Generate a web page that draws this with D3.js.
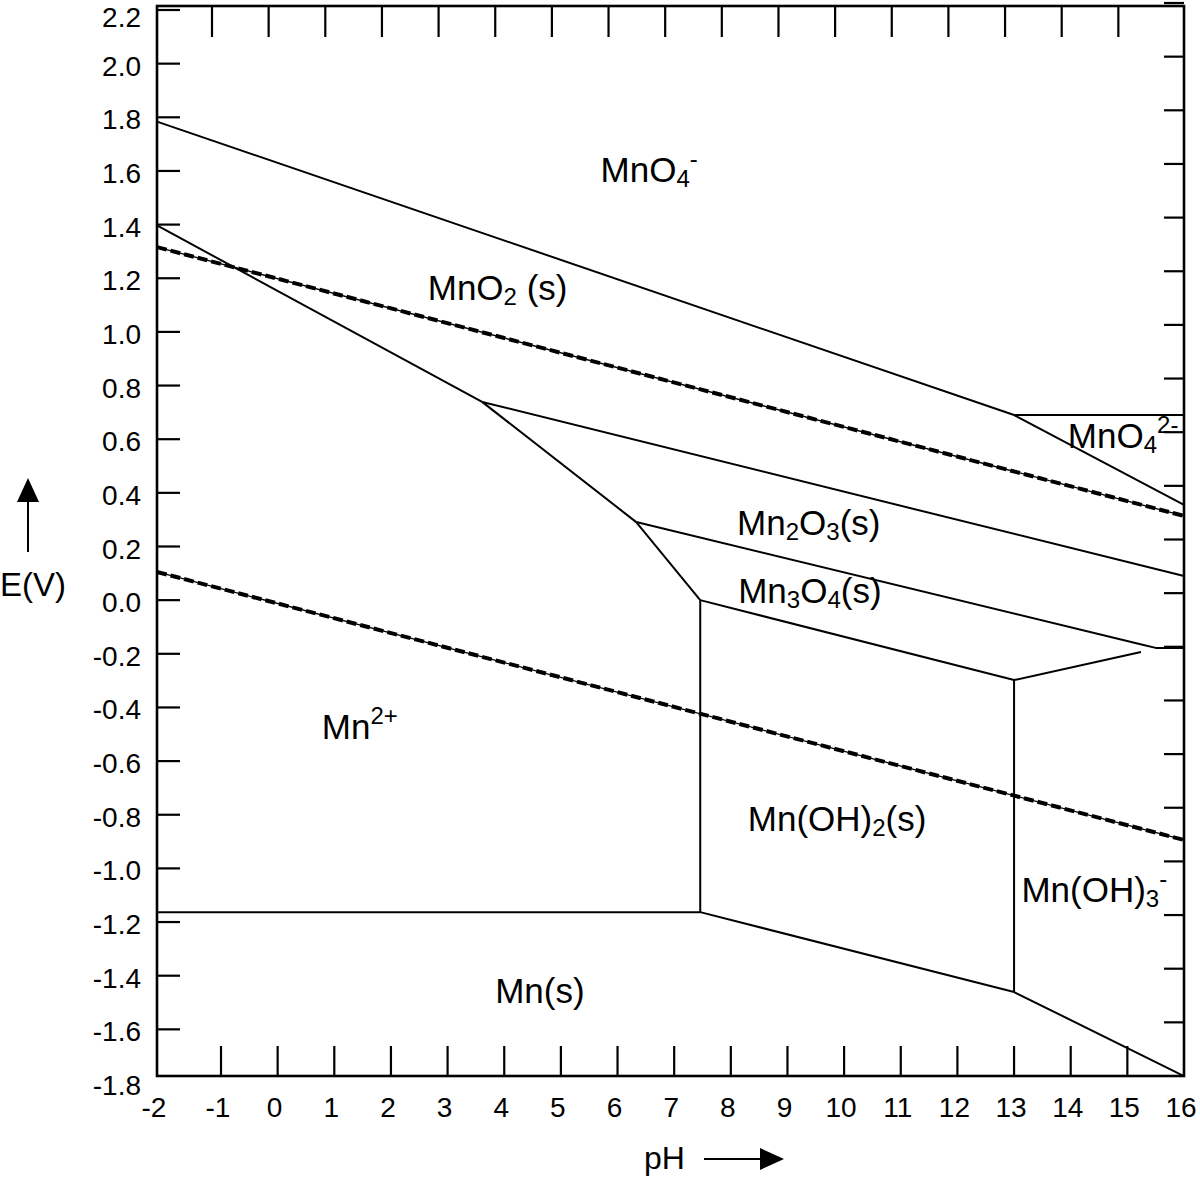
<!DOCTYPE html>
<html><head><meta charset="utf-8">
<script src="https://cdn.jsdelivr.net/npm/d3@7"></script>
<style>body{margin:0;background:#fff}svg{display:block}text{font-family:"Liberation Sans",Arial,sans-serif;fill:#000}</style>
</head><body>
<svg id="c" width="1200" height="1177"></svg>
<script>
// ---- data ----
const phTickLabels = [-2,-1,0,1,2,3,4,5,6,7,8,9,10,11,12,13,14,15,16];
const eTickLabels = [2.2,2.0,1.8,1.6,1.4,1.2,1.0,0.8,0.6,0.4,0.2,0.0,-0.2,-0.4,-0.6,-0.8,-1.0,-1.2,-1.4,-1.6,-1.8];

// solid boundaries [pH, E]
const mno4_mno2   = [[-2,1.784],[13.0,0.690]];
const mno4_mno42  = [[13.0,0.690],[16,0.690]];
const mno42_mno2  = [[13.0,0.690],[16,0.355]];
const mno2_mn2    = [[-2,1.397],[3.61,0.739]];
const mn2o3_mn2   = [[3.61,0.739],[6.33,0.291]];
const mn3o4_mn2   = [[6.33,0.291],[7.46,0.0]];
const mnoh2_mn2   = [[7.46,0.0],[7.46,-1.163]];
const mno2_mn2o3  = [[3.61,0.739],[16,0.090]];
const mn2o3_mn3o4 = [[6.33,0.291],[15.25,-0.165],[15.5,-0.178],[16,-0.178]];
const mn3o4_mnoh2 = [[7.46,0.0],[13.0,-0.298]];
const mn3o4_mnoh3 = [[13.0,-0.298],[15.24,-0.193]];
const mnoh2_mnoh3 = [[13.0,-0.298],[13.0,-1.461]];
const mn2_mn      = [[-2,-1.163],[7.46,-1.163]];
const mnoh2_mn    = [[7.46,-1.163],[13.0,-1.461]];
const mnoh3_mn    = [[13.0,-1.461],[16,-1.774]];
const solidLines = [mno4_mno2,mno4_mno42,mno42_mno2,mno2_mn2,mn2o3_mn2,mn3o4_mn2,mnoh2_mn2,
  mno2_mn2o3,mn2o3_mn3o4,mn3o4_mnoh2,mn3o4_mnoh3,mnoh2_mnoh3,mn2_mn,mnoh2_mn,mnoh3_mn];

// water stability (dashed)
const o2_h2o = [[-2,1.316],[16,0.314]];
const h2o_h2 = [[-2,0.105],[16,-0.894]];
const dashedLines = [o2_h2o, h2o_h2];

// region labels: [pH, E, parts]
const regionLabels = [
  [5.70, 1.560, [["MnO","n"],["4","sub"],["-","sup"]]],
  [2.65, 1.119, [["MnO","n"],["2","sub"],[" (s)","n"]]],
  [13.95,0.567, [["MnO","n"],["4","sub"],["2-","sup"]]],
  [8.11, 0.243, [["Mn","n"],["2","sub"],["O","n"],["3","sub"],["(s)","n"]]],
  [8.13,-0.011, [["Mn","n"],["3","sub"],["O","n"],["4","sub"],["(s)","n"]]],
  [0.78,-0.518, [["Mn","n"],["2+","sup"]]],
  [8.30,-0.861, [["Mn(OH)","n"],["2","sub"],["(s)","n"]]],
  [13.13,-1.124,[["Mn(OH)","n"],["3","sub"],["-","sup"]]],
  [3.84,-1.502, [["Mn(s)","n"]]]
];

// ---- drawing ----
const svg = d3.select("#c");
const x = d3.scaleLinear().domain([-2,-1,16]).range([157,221,1184]);
const y = d3.scaleLinear().domain([-1.8,2.2]).range([1083,10]);
const frame = {l:157, r:1184, t:6, b:1076};

const line = d3.line().x(d=>x(d[0])).y(d=>y(d[1]));

// ticks
const g = svg.append("g").attr("stroke","#000").attr("stroke-width",2.2);
phTickLabels.filter(v=>v>-2 && v<16).forEach(v=>{
  g.append("line").attr("x1",x(v)).attr("x2",x(v)).attr("y1",frame.b).attr("y2",frame.b-30);
  g.append("line").attr("x1",x(v)-9).attr("x2",x(v)-9).attr("y1",frame.t).attr("y2",frame.t+31);
});
eTickLabels.filter(v=>y(v)>frame.t+2 && y(v)<frame.b-2).forEach(v=>{
  g.append("line").attr("x1",frame.l).attr("x2",frame.l+23).attr("y1",y(v)).attr("y2",y(v));
  g.append("line").attr("x1",frame.r).attr("x2",frame.r-20).attr("y1",y(v)-7).attr("y2",y(v)-7);
});

// tick labels
svg.append("g").selectAll("text").data(phTickLabels).join("text")
  .attr("x",d=>x(d)-3).attr("y",1117).attr("text-anchor","middle")
  .attr("font-size",28).text(d=>d);
svg.append("g").selectAll("text").data(eTickLabels).join("text")
  .attr("x",141).attr("y",d=>Math.max(y(d)+12, 27)).attr("text-anchor","end")
  .attr("font-size",28).text(d=>d.toFixed(1));

// boundaries
svg.append("g").selectAll("path").data(solidLines).join("path")
  .attr("d",line).attr("fill","none").attr("stroke","#000").attr("stroke-width",2)
  .attr("stroke-linejoin","round");
const dg = svg.append("g");
dg.selectAll("path.thin").data(dashedLines).join("path").attr("class","thin")
  .attr("d",line).attr("fill","none").attr("stroke","#000").attr("stroke-width",1.3);
dg.selectAll("path.thick").data(dashedLines).join("path").attr("class","thick")
  .attr("d",line).attr("fill","none").attr("stroke","#000").attr("stroke-width",4)
  .attr("stroke-dasharray","10,4");

// frame
svg.append("rect").attr("x",frame.l).attr("y",frame.t).attr("width",frame.r-frame.l)
  .attr("height",frame.b-frame.t).attr("fill","none").attr("stroke","#000").attr("stroke-width",2.6);

// region labels
regionLabels.forEach(([ph,e,parts])=>{
  const t = svg.append("text").attr("x",x(ph)).attr("y",y(e)).attr("font-size",35);
  let prev = "n";
  parts.forEach(([s,k])=>{
    const ts = t.append("tspan").text(s);
    const off = {n:0, sub:5, sup:-15};
    const dy = off[k]-off[prev];
    if(dy) ts.attr("dy",dy);
    if(k!=="n") ts.attr("font-size",24);
    prev = k;
  });
});

// axis titles with arrows
svg.append("text").attr("x",0).attr("y",596).attr("font-size",33).text("E(V)");
svg.append("line").attr("x1",28).attr("x2",28).attr("y1",552).attr("y2",500).attr("stroke","#000").attr("stroke-width",2);
svg.append("path").attr("d","M28,478 L17,502 L39,502 Z").attr("fill","#000");
svg.append("text").attr("x",644).attr("y",1169).attr("font-size",32).text("pH");
svg.append("line").attr("x1",704).attr("x2",762).attr("y1",1159).attr("y2",1159).attr("stroke","#000").attr("stroke-width",2);
svg.append("path").attr("d","M784,1159 L760,1148 L760,1170 Z").attr("fill","#000");
</script>
</body></html>
